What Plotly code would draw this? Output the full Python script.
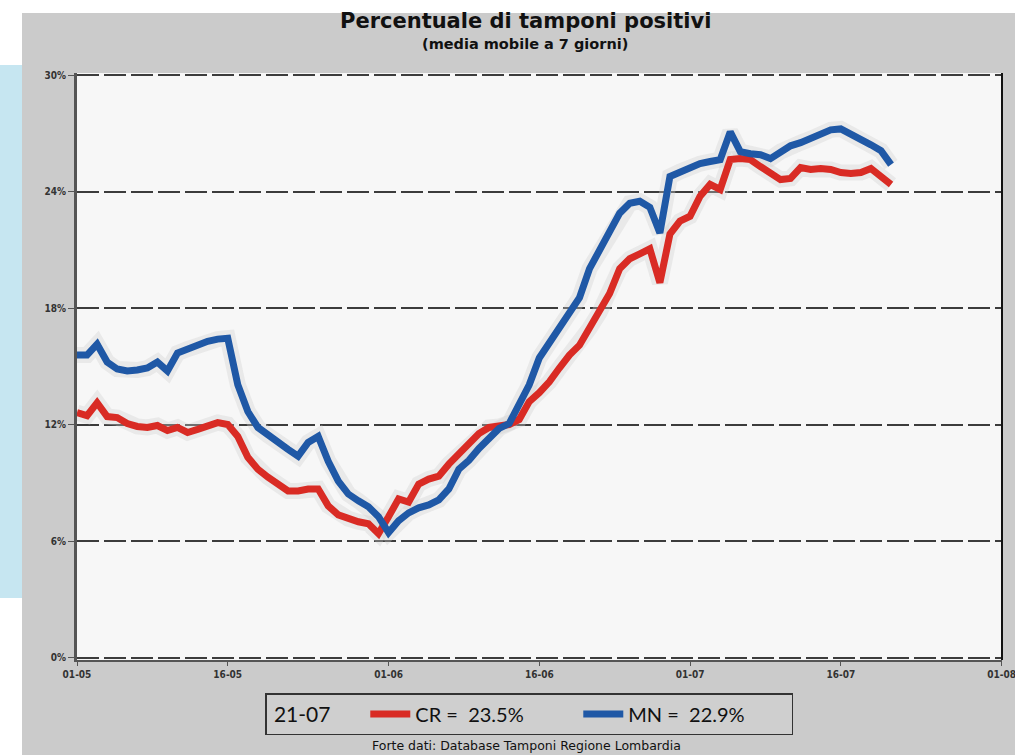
import datetime as dt
import plotly.graph_objects as go

start = dt.date(2022, 5, 1)
n_days = 82
dates = [start + dt.timedelta(days=i) for i in range(n_days)]

# CR (Cremona) - 7 day moving average of positive test percentage
cr_values = [
    12.62, 12.47, 13.13, 12.42, 12.37, 12.06, 11.91, 11.86, 11.96, 11.70,
    11.86, 11.60, 11.76, 11.91, 12.11, 12.01, 11.40, 10.32, 9.71, 9.30,
    8.94, 8.59, 8.59, 8.69, 8.69, 7.82, 7.36, 7.16, 7.00, 6.90,
    6.39, 7.26, 8.18, 8.02, 8.94, 9.20, 9.35, 9.97, 10.48, 11.09,
    11.55, 11.86, 11.91, 12.01, 12.27, 13.19, 13.65, 14.21, 14.92, 15.59,
    16.10, 16.97, 17.79, 18.76, 20.04, 20.55, 20.80, 21.06, 19.32, 21.82,
    22.49, 22.74, 23.77, 24.38, 24.12, 25.66, 25.71, 25.66, 25.30, 24.94,
    24.63, 24.69, 25.25, 25.15, 25.20, 25.15, 24.99, 24.94, 24.99, 25.20,
    24.84, 24.38,
]

# MN (Mantova)
mn_values = [
    15.59, 15.59, 16.15, 15.23, 14.87, 14.77, 14.82, 14.92, 15.23, 14.77,
    15.69, 15.90, 16.10, 16.30, 16.41, 16.46, 14.06, 12.68, 11.86, 11.45,
    11.09, 10.73, 10.38, 11.09, 11.40, 10.12, 9.10, 8.43, 8.08, 7.77,
    7.26, 6.44, 7.05, 7.46, 7.72, 7.87, 8.13, 8.69, 9.71, 10.17,
    10.78, 11.35, 11.81, 12.06, 13.03, 14.06, 15.44, 16.20, 16.97, 17.79,
    18.55, 20.04, 20.96, 21.88, 22.90, 23.41, 23.51, 23.20, 21.88, 24.79,
    25.04, 25.30, 25.45, 25.56, 25.66, 27.09, 26.07, 25.96, 25.91, 25.71,
    26.07, 26.37, 26.53, 26.73, 26.99, 27.19, 27.24, 26.99, 26.73, 26.42,
    26.12, 25.40,
]

series_names = ["CR =  23.5%", "MN =  22.9%"]
legend_date = "21-07"

y_ticks = [0, 6, 12, 18, 24, 30]
y_ticktext = ["0%", "6%", "12%", "18%", "24%", "30%"]
x_tick_dates = [dt.date(2022, 5, 1), dt.date(2022, 5, 16), dt.date(2022, 6, 1),
                dt.date(2022, 6, 16), dt.date(2022, 7, 1), dt.date(2022, 7, 16),
                dt.date(2022, 8, 1)]
x_ticktext = ["01-05", "16-05", "01-06", "16-06", "01-07", "16-07", "01-08"]

RED = "#d92b24"
BLUE = "#1f58a6"
GLOW = "rgba(205,205,205,0.35)"

fig = go.Figure()

# soft halo behind the lines
for vals in (cr_values, mn_values):
    fig.add_trace(go.Scatter(x=dates, y=vals, mode="lines",
                             line=dict(color=GLOW, width=16),
                             showlegend=False, hoverinfo="skip"))

fig.add_trace(go.Scatter(x=dates, y=cr_values, mode="lines", name=series_names[0],
                         line=dict(color=RED, width=7)))
fig.add_trace(go.Scatter(x=dates, y=mn_values, mode="lines", name=series_names[1],
                         line=dict(color=BLUE, width=7)))

# pixel helpers for paper coordinates
L, R, T, B = 77, 13, 73, 95
W, H = 1015, 755
PW, PH = W - L - R, H - T - B


def px(x):
    return (x - L) / PW


def py(y):
    return (H - B - y) / PH


shapes = [
    # white strip at top
    dict(type="rect", xref="paper", yref="paper", x0=px(-20), x1=px(1040),
         y0=py(13), y1=py(-20), fillcolor="white", line=dict(width=0), layer="below"),
    # white left column
    dict(type="rect", xref="paper", yref="paper", x0=px(-20), x1=px(22),
         y0=py(780), y1=py(-20), fillcolor="white", line=dict(width=0), layer="below"),
    # light blue strip
    dict(type="rect", xref="paper", yref="paper", x0=px(-20), x1=px(22),
         y0=py(598), y1=py(65), fillcolor="#c6e6f1", line=dict(width=0), layer="below"),
    # right border
    dict(type="line", xref="paper", yref="paper", x0=1, x1=1, y0=0, y1=1,
         line=dict(color="#111111", width=2)),
]

NB = "\u00a0"

fig.update_layout(
    width=W, height=H,
    margin=dict(l=L, r=R, t=T, b=B, pad=0, autoexpand=False),
    paper_bgcolor="#cbcbcb",
    plot_bgcolor="#f7f7f7",
    shapes=shapes,
    showlegend=True,
    legend=dict(
        orientation="h",
        x=px(265), y=py(693), xanchor="left", yanchor="top",
        bgcolor="#cfcfcf", bordercolor="#333333", borderwidth=1.5,
        font=dict(family="Lato, Liberation Sans, sans-serif", size=20, color="#111111"),
        title=dict(text=NB + legend_date + NB * 5,
                   font=dict(family="Lato, Liberation Sans, sans-serif", size=21, color="#111111")),
        entrywidth=158,
        itemwidth=40,
    ),
    annotations=[
        dict(text="<b>Percentuale di tamponi positivi</b>", xref="paper", yref="paper",
             x=px(525), y=py(21), xanchor="center", yanchor="middle", showarrow=False,
             font=dict(family="DejaVu Sans, sans-serif", size=21, color="#111111")),
        dict(text="<b>(media mobile a 7 giorni)</b>", xref="paper", yref="paper",
             x=px(525), y=py(44), xanchor="center", yanchor="middle", showarrow=False,
             font=dict(family="DejaVu Sans, sans-serif", size=14.5, color="#111111")),
        dict(text="Forte dati: Database Tamponi Regione Lombardia", xref="paper", yref="paper",
             x=px(526), y=py(745), xanchor="center", yanchor="middle", showarrow=False,
             font=dict(family="DejaVu Sans, sans-serif", size=12.5, color="#111111")),
    ],
    xaxis=dict(
        type="date",
        range=[dt.datetime(2022, 5, 1), dt.datetime(2022, 8, 1, 1, 0)],
        tickvals=x_tick_dates, ticktext=x_ticktext,
        ticklabeloverflow="allow", automargin=False,
        showgrid=False, zeroline=False,
        showline=True, linecolor="#555555", linewidth=2,
        ticks="outside", ticklen=4, tickcolor="#555555", tickwidth=1,
        tickfont=dict(family="DejaVu Sans Condensed, DejaVu Sans", size=10, color="#333333",
                      weight="bold"),
    ),
    yaxis=dict(
        range=[-0.12, 30.12],
        tickvals=y_ticks, ticktext=y_ticktext,
        automargin=False,
        showgrid=True, gridcolor="#3c3c3c", gridwidth=2, griddash="22px,5px",
        zeroline=False,
        showline=True, linecolor="#555555", linewidth=3,
        ticks="outside", ticklen=6, tickcolor="#555555", tickwidth=1,
        tickfont=dict(family="DejaVu Sans Condensed, DejaVu Sans", size=10, color="#333333",
                      weight="bold"),
    ),
)

fig.write_html("out.html", config={"displayModeBar": False},
               post_script="document.body.style.margin='0';document.body.style.padding='0';")
